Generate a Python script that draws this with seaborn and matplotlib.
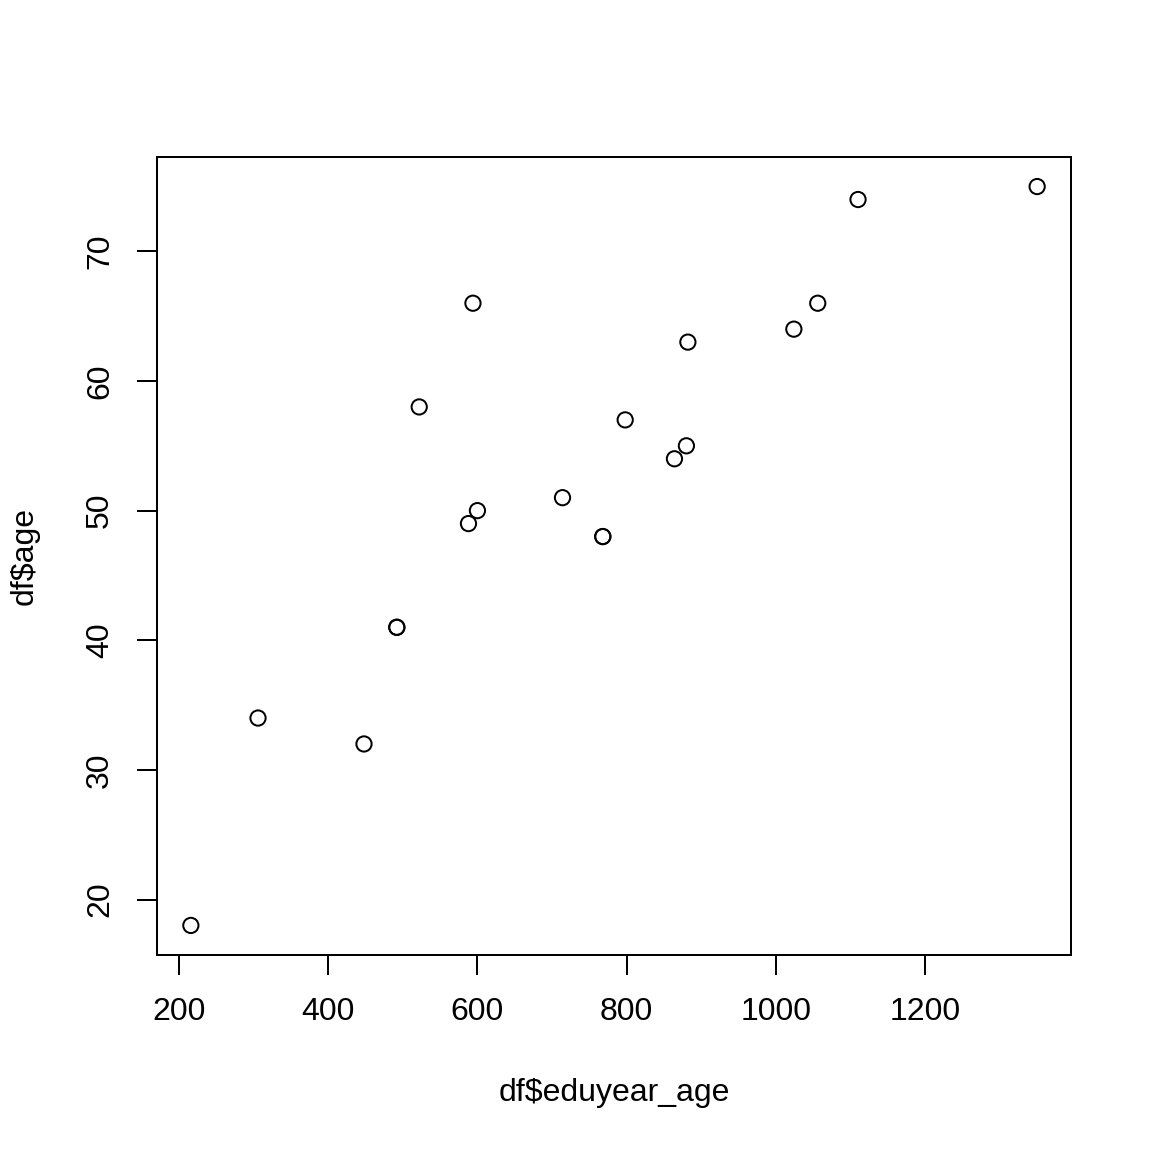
import matplotlib
matplotlib.use("Agg")
import matplotlib.pyplot as plt
import seaborn as sns
import pandas as pd

eduyear_age = [216, 306, 448, 492, 492, 522, 594, 588, 600, 714, 768, 768,
               798, 864, 880, 882, 1024, 1056, 1110, 1350]
age = [18, 34, 32, 41, 41, 58, 66, 49, 50, 51, 48, 48,
       57, 54, 55, 63, 64, 66, 74, 75]
x_ticks = [200, 400, 600, 800, 1000, 1200]
y_ticks = [20, 30, 40, 50, 60, 70]

df = pd.DataFrame({"eduyear_age": eduyear_age, "age": age})

sns.set_style("white")
plt.rcParams["font.family"] = ["Liberation Sans", "DejaVu Sans"]

fig = plt.figure(figsize=(8, 8), dpi=144)
ax = fig.add_axes([157/1152, 1 - 955/1152, (1071-157)/1152, (955-157)/1152])

sns.scatterplot(data=df, x="eduyear_age", y="age", ax=ax, marker="o", s=58,
                facecolor="none", edgecolor="black", linewidth=1.0)

xmin, xmax = min(eduyear_age), max(eduyear_age)
ymin, ymax = min(age), max(age)
dx = (xmax - xmin) * 0.04
dy = (ymax - ymin) * 0.04
ax.set_xlim(xmin - dx, xmax + dx)
ax.set_ylim(ymin - dy, ymax + dy)

ax.set_xticks(x_ticks)
ax.set_yticks(y_ticks)
ax.set_xticklabels([str(t) for t in x_ticks])
ax.set_yticklabels([str(t) for t in y_ticks], rotation=90, va="center")
ax.tick_params(axis="both", direction="out", length=10, width=1.0,
               labelsize=16, pad=11, color="black", labelcolor="black")
ax.tick_params(axis="x", bottom=True)
ax.tick_params(axis="y", left=True)

for sp in ax.spines.values():
    sp.set_visible(True)
    sp.set_color("black")
    sp.set_linewidth(1.0)

ax.set_xlabel("df$eduyear_age", fontsize=16, color="black")
ax.set_ylabel("df$age", fontsize=16, color="black")
ax.xaxis.set_label_coords((614-157)/914, (955-1093)/798)
ax.xaxis.label.set_va("center")
ax.yaxis.set_label_coords((25-157)/914, (955-556)/798)
ax.yaxis.label.set_va("center")

fig.savefig("out.png", dpi=144, facecolor="white")
